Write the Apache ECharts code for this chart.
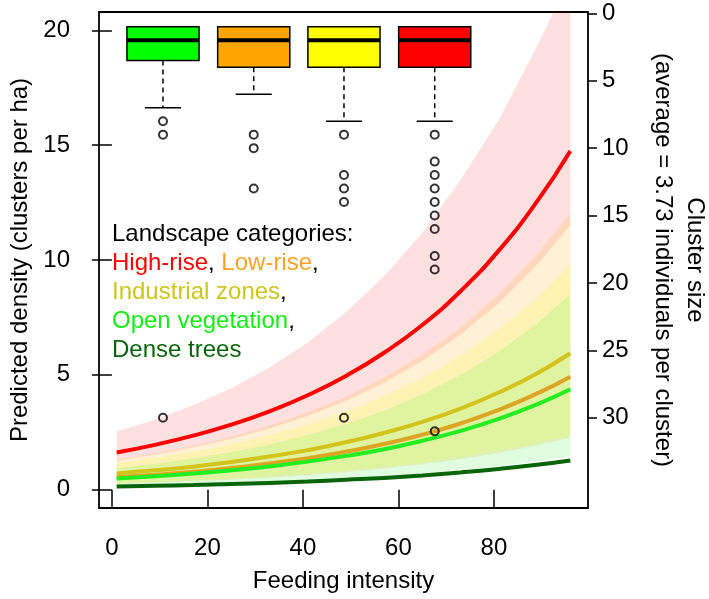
<!DOCTYPE html>
<html>
<head>
<meta charset="utf-8">
<title>Predicted density vs feeding intensity</title>
<script src="https://cdn.jsdelivr.net/npm/echarts@6/dist/echarts.min.js"></script>
<style>
  html, body { margin: 0; padding: 0; background: #fff; }
  #chart { width: 709px; height: 599px; }
</style>
</head>
<body>
<div id="chart"></div>
<script>
const feeding = [1, 9, 17, 25, 33, 41, 49, 57, 65, 73, 81, 89, 96];

// predicted density (clusters per ha)
const highRise   = [1.62, 1.95, 2.35, 2.83, 3.41, 4.11, 4.95, 5.96, 7.17, 8.64, 10.41, 12.54, 14.75];
const lowRise    = [0.54, 0.65, 0.78, 0.94, 1.14, 1.37, 1.65, 1.99, 2.39, 2.88, 3.47, 4.18, 4.92];
const industrial = [0.70, 0.84, 1.00, 1.20, 1.44, 1.72, 2.06, 2.47, 2.95, 3.53, 4.23, 5.06, 5.94];
const openVeg    = [0.48, 0.58, 0.70, 0.84, 1.01, 1.22, 1.47, 1.76, 2.13, 2.56, 3.08, 3.71, 4.37];
const denseTrees = [0.14, 0.17, 0.20, 0.24, 0.29, 0.35, 0.43, 0.51, 0.62, 0.75, 0.90, 1.08, 1.27];

// confidence bands (lower / upper)
const highRiseLow  = [1.26, 1.52, 1.83, 2.21, 2.66, 3.21, 3.86, 4.65, 5.59, 6.74, 8.12, 9.78, 11.5];
const highRiseHigh = [2.53, 3.04, 3.67, 4.41, 5.32, 6.41, 7.72, 9.30, 11.19, 13.48, 16.1, 19.3, 22.3];
const lowRiseLow   = [0.25, 0.30, 0.36, 0.43, 0.52, 0.63, 0.76, 0.92, 1.10, 1.32, 1.60, 1.92, 2.26];
const lowRiseHigh  = [1.32, 1.59, 1.91, 2.30, 2.79, 3.36, 4.04, 4.88, 5.86, 7.06, 8.50, 10.24, 12.05];
const industrialLow  = [0.28, 0.34, 0.40, 0.48, 0.58, 0.69, 0.82, 0.99, 1.18, 1.41, 1.69, 2.02, 2.38];
const industrialHigh = [1.16, 1.39, 1.65, 1.98, 2.38, 2.84, 3.40, 4.08, 4.87, 5.82, 6.98, 8.35, 9.80];
const openVegLow   = [0.16, 0.19, 0.23, 0.28, 0.33, 0.40, 0.49, 0.58, 0.70, 0.84, 1.02, 1.22, 1.44];
const openVegHigh  = [0.94, 1.13, 1.37, 1.64, 1.97, 2.38, 2.87, 3.43, 4.15, 4.99, 6.01, 7.23, 8.52];

// cluster size boxplots (right axis)
const boxX       = [10.7, 29.7, 48.6, 67.6];
const boxQ1      = [1, 1, 1, 1];
const boxMedian  = [2, 2, 2, 2];
const boxQ3      = [3.5, 4, 4, 4];
const boxWhisker = [7, 6, 8, 8];
const boxOutliers = [
  [8, 9, 30],
  [9, 10, 13],
  [9, 12, 13, 14, 30],
  [9, 11, 12, 13, 14, 15, 16, 18, 19, 31]
];
const boxColors = ['#00ff00', '#ffa500', '#ffff00', '#ff0000'];

const xTicks = [0, 20, 40, 60, 80];
const leftTicks = [0, 5, 10, 15, 20];
const rightTicks = [0, 5, 10, 15, 20, 25, 30];

const FONT = '"Liberation Sans", Arial, sans-serif';
const chart = echarts.init(document.getElementById('chart'));

function pairs(arr) {
  return feeding.map((x, i) => [x, arr[i]]);
}

// confidence band drawn as one polygon: upper edge forward, lower edge back
function band(low, high, color) {
  return {
    type: 'custom', clip: true, silent: true, z: 1,
    data: [[feeding[0], low[0]]],
    renderItem: function (params, api) {
      const pts = [];
      feeding.forEach((x, i) => pts.push(api.coord([x, high[i]])));
      for (let i = feeding.length - 1; i >= 0; i--) pts.push(api.coord([feeding[i], low[i]]));
      return { type: 'polygon', shape: { points: pts }, style: { fill: color } };
    }
  };
}

function curve(arr, color) {
  return {
    type: 'line', data: pairs(arr), smooth: true, symbol: 'none',
    lineStyle: { color: color, width: 4 }, z: 3
  };
}

const outlierData = [];
boxOutliers.forEach((list, i) => list.forEach(v => outlierData.push([boxX[i], v])));

chart.setOption({
  animation: false,
  textStyle: { fontFamily: FONT },
  grid: { left: 99, right: 121, top: 12, bottom: 91, outerBoundsMode: 'none',
          show: true, borderColor: '#000', borderWidth: 1.8 },
  xAxis: {
    type: 'value', min: -2.7, max: 99.7,
    name: 'Feeding intensity', nameLocation: 'middle', nameGap: 61,
    nameTextStyle: { fontSize: 24, color: '#000' },
    axisLine: { show: false },
    axisTick: { show: true, length: 19, customValues: xTicks, lineStyle: { color: '#000', width: 1.5 } },
    axisLabel: { customValues: xTicks, margin: 28, fontSize: 24, color: '#000' },
    splitLine: { show: false }
  },
  yAxis: [
    {
      type: 'value', min: -0.8, max: 20.8, position: 'left',
      name: 'Predicted density (clusters per ha)', nameLocation: 'middle', nameRotate: 90, nameGap: 54,
      nameTextStyle: { fontSize: 24, color: '#000' },
      axisLine: { show: false },
      axisTick: { show: true, length: 20, customValues: leftTicks, lineStyle: { color: '#000', width: 1.5 } },
      axisLabel: { customValues: leftTicks, margin: 29, fontSize: 24, color: '#000' },
      splitLine: { show: false }
    },
    {
      type: 'value', min: -0.1, max: 36.7, inverse: true, position: 'right',
      axisLine: { show: false },
      axisTick: { show: true, length: 9, customValues: rightTicks, lineStyle: { color: '#000', width: 1.5 } },
      axisLabel: { customValues: rightTicks, margin: 14, fontSize: 24, color: '#000' },
      splitLine: { show: false }
    }
  ],
  graphic: [
    {
      type: 'text', left: 112, top: 220,
      style: {
        text: 'Landscape categories:\n{r|High-rise}, {o|Low-rise},\n{y|Industrial zones},\n{g|Open vegetation},\n{d|Dense trees}',
        font: '24px ' + FONT, fill: '#000', lineHeight: 29,
        rich: {
          r: { fill: '#ff0000', font: '24px ' + FONT, lineHeight: 29 },
          o: { fill: '#ffa126', font: '24px ' + FONT, lineHeight: 29 },
          y: { fill: '#cdc51c', font: '24px ' + FONT, lineHeight: 29 },
          g: { fill: '#11ee11', font: '24px ' + FONT, lineHeight: 29 },
          d: { fill: '#0a640a', font: '24px ' + FONT, lineHeight: 29 }
        }
      }
    },
    {
      type: 'text', x: 695, y: 260, rotation: -Math.PI / 2,
      style: { text: 'Cluster size', font: '24px ' + FONT, fill: '#000', align: 'center', verticalAlign: 'middle' }
    },
    {
      type: 'text', x: 663, y: 260, rotation: -Math.PI / 2,
      style: { text: '(average = 3.73 individuals per cluster)', font: '24px ' + FONT, fill: '#000', align: 'center', verticalAlign: 'middle' }
    }
  ],
  series: [
    band(highRiseLow, highRiseHigh, 'rgba(255,0,0,0.12)'),
    band(lowRiseLow, lowRiseHigh, 'rgba(255,165,0,0.16)'),
    band(industrialLow, industrialHigh, 'rgba(255,255,0,0.16)'),
    band(openVegLow, openVegHigh, 'rgba(0,235,0,0.12)'),
    curve(highRise, '#ff0000'),
    curve(industrial, '#d2c41a'),
    curve(lowRise, '#dca522'),
    curve(openVeg, '#22ee22'),
    curve(denseTrees, '#0a640a'),
    {
      type: 'custom', yAxisIndex: 1, z: 5,
      data: boxX.map((x, i) => [x, boxQ1[i], boxMedian[i], boxQ3[i], boxWhisker[i]]),
      encode: { x: 0, y: [1, 2, 3, 4] },
      renderItem: function (params, api) {
        const x = api.value(0);
        const top = api.coord([x, api.value(1)]);
        const med = api.coord([x, api.value(2)]);
        const bot = api.coord([x, api.value(3)]);
        const wh = api.coord([x, api.value(4)]);
        const w = api.size([15.1, 0])[0];
        const capW = w / 2;
        return {
          type: 'group',
          children: [
            { type: 'line', shape: { x1: top[0], y1: bot[1], x2: wh[0], y2: wh[1] },
              style: { stroke: '#000', lineWidth: 1.5, lineDash: [5, 4] } },
            { type: 'line', shape: { x1: wh[0] - capW / 2, y1: wh[1], x2: wh[0] + capW / 2, y2: wh[1] },
              style: { stroke: '#000', lineWidth: 1.5 } },
            { type: 'rect', shape: { x: top[0] - w / 2, y: top[1], width: w, height: bot[1] - top[1] },
              style: { fill: boxColors[params.dataIndex], stroke: '#000', lineWidth: 1.5 } },
            { type: 'line', shape: { x1: top[0] - w / 2, y1: med[1], x2: top[0] + w / 2, y2: med[1] },
              style: { stroke: '#000', lineWidth: 4 } }
          ]
        };
      }
    },
    {
      type: 'scatter', yAxisIndex: 1, z: 6, data: outlierData, symbol: 'circle', symbolSize: 8,
      itemStyle: { color: 'rgba(0,0,0,0)', borderColor: '#000', borderWidth: 2 }
    }
  ]
});
</script>
</body>
</html>
